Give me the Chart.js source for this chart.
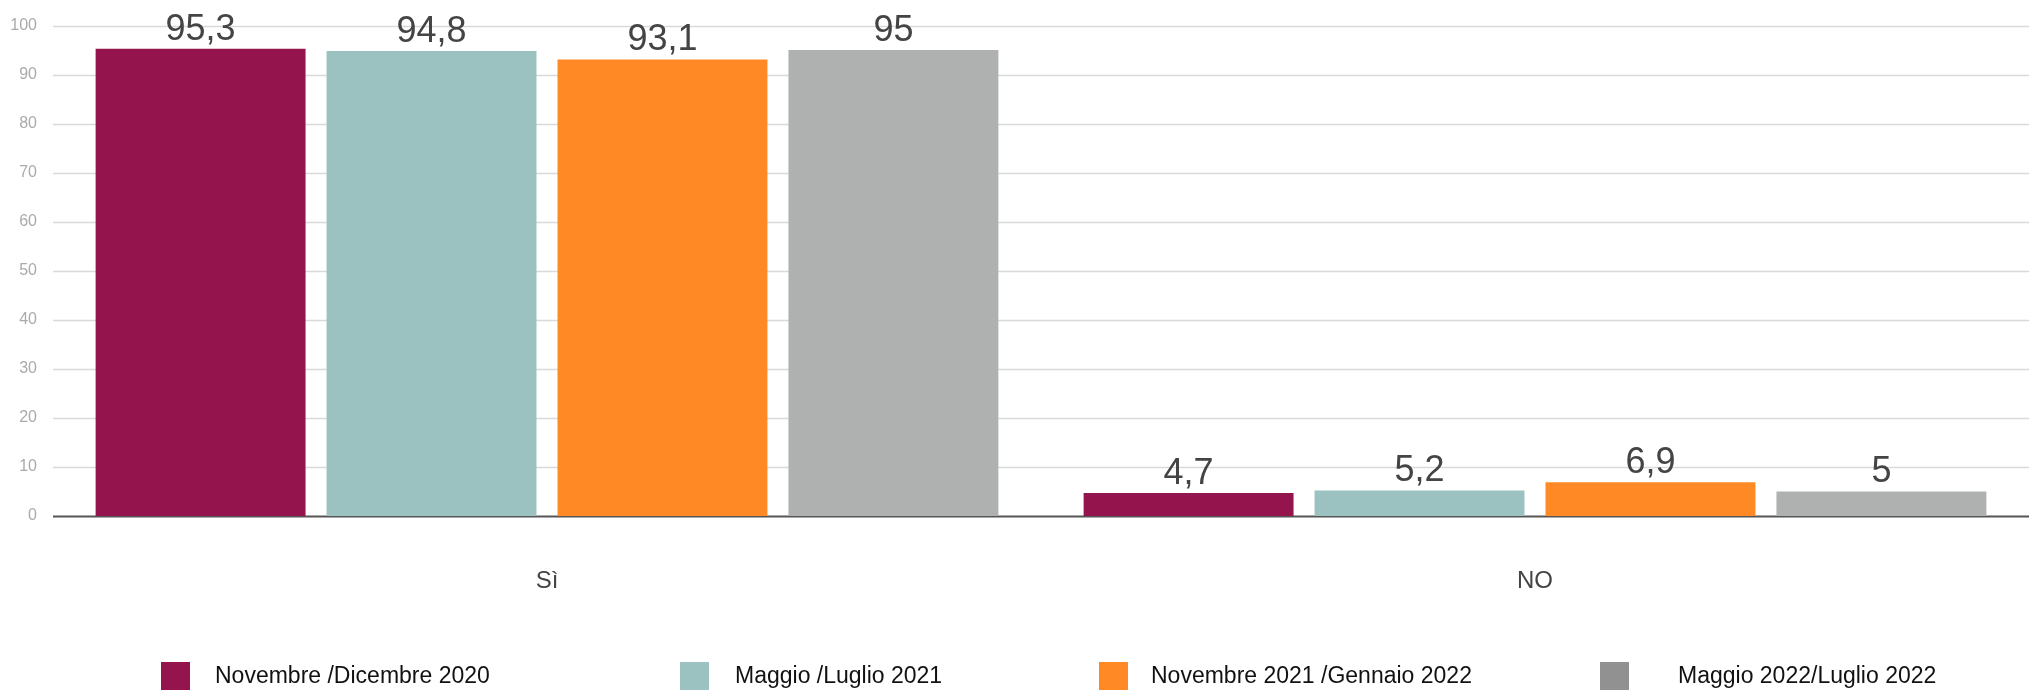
<!DOCTYPE html>
<html>
<head>
<meta charset="utf-8">
<script src="https://cdn.jsdelivr.net/npm/chart.js@4"></script>
<style>
  html, body { margin: 0; padding: 0; background: #fff; }
  #wrap { width: 2035px; height: 692px; }
</style>
</head>
<body>
<div id="wrap"><canvas id="barChart" width="2035" height="692"></canvas></div>
<script>
var categories = ['Sì', 'NO'];
var seriesNames = ['Novembre /Dicembre 2020', 'Maggio /Luglio 2021', 'Novembre 2021 /Gennaio 2022', 'Maggio 2022/Luglio 2022'];
var nov2020 = [95.3, 4.7];
var mag2021 = [94.8, 5.2];
var nov2021 = [93.1, 6.9];
var mag2022 = [95, 5];
var barColors = ['#94154e', '#9bc1c1', '#ff8a25', '#aeb1b0'];
var legendColors = ['#94154e', '#9bc1c1', '#ff8a25', '#919191'];
var yTicks = [0, 10, 20, 30, 40, 50, 60, 70, 80, 90, 100];

// legend item x positions (swatch left, text left)
var legendX = [[161, 215], [680, 735], [1099, 1151], [1600, 1678]];

var FONT = "'Liberation Sans', Arial, Helvetica, sans-serif";

function fmt(v) {
    return v.toString().replace('.', ',');
}

// horizontal grid lines, only across the plot area
var gridLines = {
    id: 'gridLines',
    beforeDatasetsDraw: function(chart) {
        let ctx = chart.ctx;
        let area = chart.chartArea;
        let y = chart.scales.y;
        ctx.save();
        yTicks.forEach(function(v) {
            let py = Math.round(y.getPixelForValue(v)) + 0.5;
            ctx.strokeStyle = v === 0 ? '#555' : '#d9d9d9';
            ctx.lineWidth = v === 0 ? 2 : 1.5;
            ctx.beginPath();
            ctx.moveTo(area.left, py);
            ctx.lineTo(area.right, py);
            ctx.stroke();
        });
        ctx.restore();
    }
};

var valueLabels = {
    id: 'valueLabels',
    afterDatasetsDraw: function(chart) {
        let ctx = chart.ctx;
        ctx.save();
        ctx.font = '36px ' + FONT;
        ctx.fillStyle = '#444';
        ctx.textAlign = 'center';
        ctx.textBaseline = 'alphabetic';
        chart.data.datasets.forEach(function(ds, i) {
            chart.getDatasetMeta(i).data.forEach(function(bar, j) {
                ctx.fillText(fmt(ds.data[j]), bar.x, bar.y - 9);
            });
        });
        ctx.restore();
    }
};

var bottomLegend = {
    id: 'bottomLegend',
    afterDraw: function(chart) {
        let ctx = chart.ctx;
        ctx.save();
        ctx.font = '23px ' + FONT;
        ctx.textBaseline = 'middle';
        ctx.textAlign = 'left';
        seriesNames.forEach(function(name, i) {
            ctx.fillStyle = legendColors[i];
            ctx.fillRect(legendX[i][0], 662, 29, 28);
            ctx.fillStyle = '#111';
            ctx.fillText(name, legendX[i][1], 677);
        });
        ctx.restore();
    }
};

var seriesData = [nov2020, mag2021, nov2021, mag2022];

var ctxBar = document.getElementById('barChart').getContext('2d');
var barChart = new Chart(ctxBar, {
    type: 'bar',
    data: {
        labels: categories,
        datasets: seriesNames.map(function(name, i) {
            return {
                label: name,
                data: seriesData[i],
                backgroundColor: barColors[i],
                borderWidth: 0,
                barPercentage: 0.909,
                categoryPercentage: 0.935
            };
        })
    },
    options: {
        responsive: false,
        animation: false,
        layout: { padding: { top: 18, right: 6, left: 0, bottom: 99 } },
        plugins: {
            legend: { display: false },
            tooltip: { enabled: false }
        },
        scales: {
            x: {
                afterFit: function(scale) { scale.height = 77; },
                grid: { display: false },
                border: { display: false },
                ticks: {
                    padding: 43,
                    color: '#444',
                    font: { family: FONT, size: 24 }
                }
            },
            y: {
                min: 0,
                max: 100,
                afterFit: function(scale) { scale.width = 53; },
                afterBuildTicks: function(scale) {
                    scale.ticks = yTicks.map(function(v) { return { value: v }; });
                },
                border: { display: false },
                grid: { display: false, drawTicks: false },
                ticks: {
                    padding: 16,
                    color: '#aaa',
                    font: { family: FONT, size: 16 }
                }
            }
        }
    },
    plugins: [gridLines, valueLabels, bottomLegend]
});
</script>
</body>
</html>
